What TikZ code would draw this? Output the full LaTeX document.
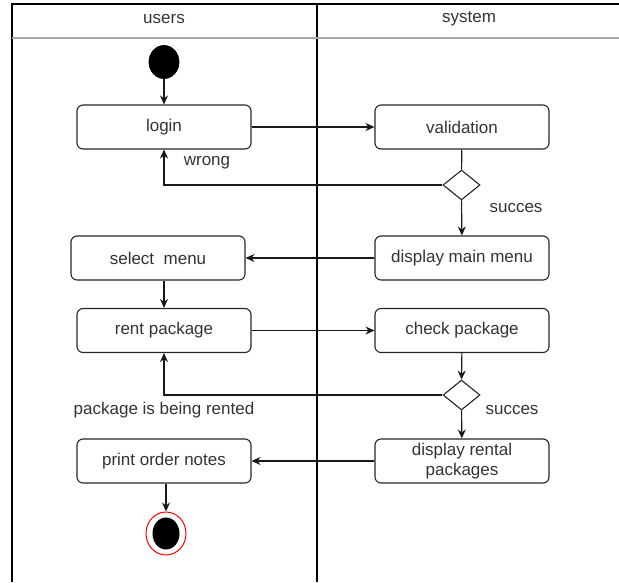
\documentclass[tikz,border=0pt]{standalone}
\usepackage{fontspec}
\setmainfont{Liberation Sans}
\usetikzlibrary{arrows.meta,shapes.geometric}
\definecolor{txt}{HTML}{333333}
\begin{document}
\begin{tikzpicture}[x=1pt,y=-1pt,
  every node/.style={font=\fontsize{17}{20}\selectfont, text=txt},
  act/.style={draw=black!85, line width=1.1pt, rounded corners=6pt, minimum width=174pt, minimum height=44pt, inner sep=0pt, align=center, fill=white},
  dec/.style={draw=black!85, line width=1.1pt, diamond, minimum width=37pt, minimum height=30pt, inner sep=0pt, fill=white, aspect=1.2},
  conn/.style={line width=1.1pt, draw=black!90, -{Stealth[length=9pt,width=8pt]}},
  plain/.style={line width=1.1pt, draw=black!90},
  lbl/.style={inner sep=0pt}
]
\useasboundingbox (0,0) rectangle (619,582);
% swimlane frame
\draw[line width=1.3pt] (12,582) -- (12,4) -- (625,4);
\draw[line width=1.3pt] (317,4) -- (317,582);
\draw[line width=1.2pt, draw=black!35] (12,38) -- (625,38);
\node[lbl] (hu) at (164,19) {users};
\node[lbl] (hs) at (469,19) {system};

% nodes
\node[draw=black, fill=black, ellipse, minimum width=30pt, minimum height=33pt, inner sep=0pt, line width=0.8pt] (start) at (164,62) {};
\node[act] (login) at (164,127) {login};
\node[act] (valid) at (462,127) {validation};
\node[dec] (d1) at (461.5,185) {};
\node[act] (dmm) at (462,258) {display main menu};
\node[act] (sel) at (158,258) {select\ \ menu};
\node[act] (rent) at (164,330.5) {rent package};
\node[act] (check) at (462,330.5) {check package};
\node[dec] (d2) at (461.5,395) {};
\node[act, align=center] (drp) at (462,461) {display rental\\packages};
\node[act] (print) at (164,461) {print order notes};
\node[draw=red, fill=white, ellipse, minimum width=40pt, minimum height=43pt, inner sep=0pt, line width=1pt] (endo) at (166,533.5) {};
\node[fill=black, ellipse, minimum width=27pt, minimum height=32pt, inner sep=0pt] (endi) at (166,533.5) {};

% labels
\node[lbl] (lw) at (207,163) {wrong};
\node[lbl] (ls1) at (516,208) {succes};
\node[lbl] (lr) at (164,410) {package is being rented};
\node[lbl] (ls2) at (512,410) {succes};

% connectors
\draw[conn] (start) -- (login);
\draw[conn] (login) -- (valid);
\draw[plain] (valid) -- (d1);
\draw[conn] (d1.west) -| (login.south);
\draw[conn] (d1) -- (dmm);
\draw[conn] (dmm) -- (sel);
\draw[conn] (sel.south -| rent.north) -- (rent.north);
\draw[conn] (rent) -- (check);
\draw[conn] (check) -- (d2);
\draw[conn] (d2.west) -| (rent.south);
\draw[conn] (d2) -- (drp);
\draw[conn] (drp) -- (print);
\draw[conn] (print.south -| endo.north) -- (endo.north);
\end{tikzpicture}
\end{document}
